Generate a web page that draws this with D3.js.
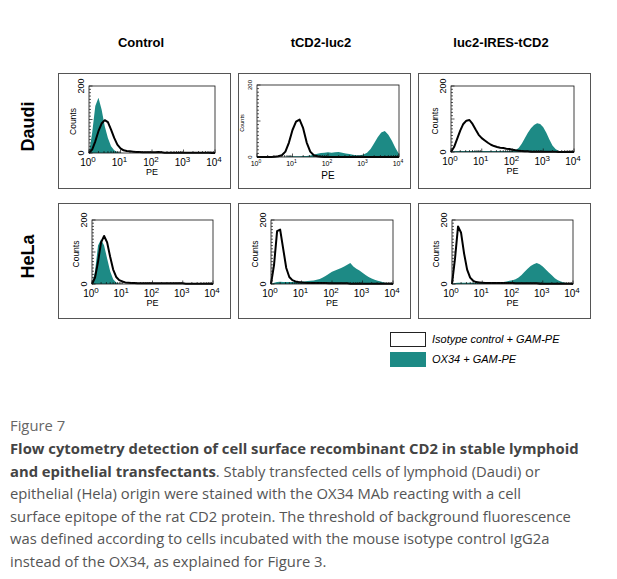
<!DOCTYPE html>
<html>
<head>
<meta charset="utf-8">
<script src="https://cdn.jsdelivr.net/npm/d3@7"></script>
<style>
  body { margin: 0; background: #fff; }
  svg { display: block; }
</style>
</head>
<body>
<div id="chart"></div>
<script>
// column / row names
const columns = ["Control", "tCD2-luc2", "luc2-IRES-tCD2"];
const rows = ["Daudi", "HeLa"];
const xTickExps = [0, 1, 2, 3, 4];
const yTicks = [0, 200];
const legendLabels = ["Isotype control + GAM-PE", "OX34 + GAM-PE"];

// counts per bin, bins at log10(PE) = 0.0, 0.1, ... 4.0
const daudiControlOX34 = [0,60,140,165,130,80,45,20,8,3,1,0,0,0,0,0,0,0,0,0,0,0,0,0,0,0,0,0,0,0,0,0,0,0,0,0,0,0,0,0,0];
const daudiControlIso  = [0,10,35,65,88,98,92,70,45,25,14,8,6,5,4,3,3,2,2,2,2,2,3,2,1,1,1,1,1,1,1,1,1,1,1,1,1,1,1,0,0];
const daudiTcdOX34     = [0,0,0,0,0,0,0,0,1,2,2,2,2,3,3,4,6,9,11,12,13,12,13,14,12,10,8,6,5,5,7,12,22,38,55,68,72,62,45,25,8];
const daudiTcdIso      = [0,0,0,0,0,1,2,5,15,40,75,98,104,80,40,15,5,2,1,0,0,0,0,0,0,0,0,0,0,0,0,0,0,0,0,0,0,0,0,0,0];
const daudiIresOX34    = [0,2,3,3,3,3,3,3,3,3,3,3,3,3,3,3,3,3,3,3,4,6,12,25,42,58,72,82,87,85,75,58,38,20,9,3,1,0,0,0,0];
const daudiIresIso     = [0,15,40,65,85,95,97,85,68,52,42,35,28,22,18,15,13,12,10,9,7,5,4,3,2,2,1,1,1,1,1,1,1,1,1,0,0,0,0,0,0];
const helaControlOX34  = [0,40,120,140,120,80,40,15,5,1,0,0,0,0,0,0,0,0,0,0,0,0,0,0,0,0,0,0,0,0,0,0,0,0,0,0,0,0,0,0,0];
const helaControlIso   = [0,20,70,130,150,130,85,45,22,12,8,5,4,3,3,2,2,2,2,2,2,2,2,2,2,2,2,2,2,2,2,1,1,1,1,1,1,1,1,1,0];
const helaTcdOX34      = [0,4,6,7,6,6,6,6,7,7,8,8,9,10,11,13,16,20,26,32,38,42,46,50,55,60,66,55,48,42,35,28,22,17,13,10,8,5,3,2,0];
const helaTcdIso       = [0,60,165,170,110,50,22,12,8,6,5,4,3,3,3,3,3,3,3,2,2,2,2,2,2,2,1,1,1,1,1,1,1,1,1,1,1,1,1,1,0];
const helaIresOX34     = [0,3,4,4,4,4,4,4,4,4,4,4,4,4,4,4,5,6,8,10,12,15,20,28,38,48,56,62,66,62,55,45,36,27,18,12,8,5,3,2,0];
const helaIresIso      = [0,80,180,160,95,45,20,10,6,5,4,3,3,3,3,3,3,3,3,3,3,2,2,2,2,2,2,2,2,1,1,1,1,1,1,1,1,1,1,1,0];

const ox34 = [[daudiControlOX34, daudiTcdOX34, daudiIresOX34], [helaControlOX34, helaTcdOX34, helaIresOX34]];
const iso  = [[daudiControlIso, daudiTcdIso, daudiIresIso], [helaControlIso, helaTcdIso, helaIresIso]];

const W = 617, H = 579;
const teal = "#1d8a85";

const svg = d3.select("#chart").append("svg")
    .attr("width", W).attr("height", H);

svg.append("rect").attr("width", W).attr("height", H).attr("fill", "#fff");

// panel layout: frame box and inner plot box (relative to frame)
const colX = [58, 238, 418], rowY = [73, 203];
const frameW = 172, frameH = 115;
const plotBox = [
    [{x: 31, y: 13, w: 126, h: 67, fs: 10}, {x: 19, y: 12, w: 142, h: 72, fs: 7}, {x: 33, y: 13, w: 123, h: 66, fs: 10}],
    [{x: 34, y: 17, w: 121, h: 64, fs: 10}, {x: 33, y: 17, w: 122, h: 64, fs: 10}, {x: 34, y: 17, w: 121, h: 64, fs: 10}]
];

// column headers
svg.selectAll(".col-head")
    .data(columns)
    .enter().append("text")
    .attr("class", "col-head")
    .attr("x", (d, i) => colX[i] + frameW / 2 - 3)
    .attr("y", 47)
    .attr("text-anchor", "middle")
    .style("font-family", "Liberation Sans, Arial, sans-serif")
    .style("font-weight", "bold")
    .style("font-size", "13px")
    .text(d => d);

// row labels
svg.selectAll(".row-head")
    .data(rows)
    .enter().append("text")
    .attr("class", "row-head")
    .attr("transform", (d, i) => `translate(34,${rowY[i] + frameH / 2 - 4}) rotate(-90)`)
    .attr("text-anchor", "middle")
    .style("font-family", "Liberation Sans, Arial, sans-serif")
    .style("font-weight", "bold")
    .style("font-size", "18px")
    .text(d => d);

const bins = d3.range(41).map(i => Math.pow(10, i / 10));

rows.forEach((r, ri) => {
    columns.forEach((c, ci) => {
        const fx = colX[ci], fy = rowY[ri];
        const pb = plotBox[ri][ci];
        const g = svg.append("g").attr("transform", `translate(${fx},${fy})`);

        g.append("rect")
            .attr("x", 0.5).attr("y", 0.5)
            .attr("width", frameW).attr("height", frameH)
            .attr("fill", "#fff")
            .attr("stroke", "#555");

        const x = d3.scaleLog().domain([1, 1e4]).range([pb.x, pb.x + pb.w]);
        const y = d3.scaleLinear().domain([0, 200]).range([pb.y + pb.h, pb.y]);

        const area = d3.area()
            .x((d, i) => x(bins[i]))
            .y0(y(0))
            .y1(d => y(d));
        const line = d3.line()
            .x((d, i) => x(bins[i]))
            .y(d => y(d));

        g.append("path")
            .attr("d", area(ox34[ri][ci]))
            .attr("fill", teal);

        g.append("path")
            .attr("d", line(iso[ri][ci]))
            .attr("fill", "none")
            .attr("stroke", "#000")
            .attr("stroke-width", 2)
            .attr("stroke-linejoin", "round");

        // plot box
        g.append("rect")
            .attr("x", pb.x).attr("y", pb.y)
            .attr("width", pb.w).attr("height", pb.h)
            .attr("fill", "none")
            .attr("stroke", "#111")
            .attr("stroke-width", 0.8);

        // x ticks (log, with minor ticks)
        const minor = [];
        for (let e = 0; e < 4; e++)
            for (let m = 1; m < 10; m++) minor.push(m * Math.pow(10, e));
        minor.push(1e4);
        g.selectAll(".xt").data(minor).enter().append("line")
            .attr("x1", d => x(d)).attr("x2", d => x(d))
            .attr("y1", y(0)).attr("y2", d => y(0) - (Math.log10(d) % 1 === 0 ? 3.5 : 2))
            .attr("stroke", "#111").attr("stroke-width", 0.7);

        // y ticks
        g.selectAll(".yt").data(d3.range(0, 201, 10)).enter().append("line")
            .attr("x1", pb.x).attr("x2", d => pb.x + (d % 100 === 0 ? 3.5 : 2))
            .attr("y1", d => y(d)).attr("y2", d => y(d))
            .attr("stroke", "#111").attr("stroke-width", 0.7);

        const small = pb.fs < 8;

        // x tick labels 10^n
        const xl = g.selectAll(".xl").data(xTickExps).enter().append("text")
            .attr("x", d => x(Math.pow(10, d)) - 1)
            .attr("y", y(0) + (small ? 9 : 13))
            .attr("text-anchor", "middle")
            .style("font-family", "Liberation Sans, Arial, sans-serif")
            .style("font-size", pb.fs + "px");
        xl.append("tspan").text("10");
        xl.append("tspan")
            .attr("dy", small ? -3 : -4)
            .style("font-size", (pb.fs - 2) + "px")
            .text(d => d);

        g.append("text")
            .attr("x", pb.x + pb.w / 2)
            .attr("y", small ? frameH - 9 : pb.y + pb.h + 22)
            .attr("text-anchor", "middle")
            .style("font-family", "Liberation Sans, Arial, sans-serif")
            .style("font-size", (small ? 10 : 9) + "px")
            .text("PE");

        // y tick labels & title, rotated
        g.selectAll(".yl").data(yTicks).enter().append("text")
            .attr("transform", d => `translate(${pb.x - 5},${y(d)}) rotate(-90)`)
            .attr("text-anchor", "middle")
            .style("font-family", "Liberation Sans, Arial, sans-serif")
            .style("font-size", (small ? 6 : 9) + "px")
            .text(d => d);

        g.append("text")
            .attr("transform", `translate(${pb.x - 13},${pb.y + pb.h / 2 + 2}) rotate(-90)`)
            .attr("text-anchor", "middle")
            .style("font-family", "Liberation Sans, Arial, sans-serif")
            .style("font-size", (small ? 5.5 : 8.5) + "px")
            .text("Counts");
    });
});

// legend
const legend = svg.append("g").attr("transform", "translate(390,332)");
legend.selectAll("rect").data(legendLabels).enter().append("rect")
    .attr("x", 0.5).attr("y", (d, i) => i * 20 + 0.5)
    .attr("width", 35).attr("height", 14)
    .attr("fill", (d, i) => i === 0 ? "#fff" : teal)
    .attr("stroke", (d, i) => i === 0 ? "#222" : teal);
legend.selectAll("text").data(legendLabels).enter().append("text")
    .attr("x", 42).attr("y", (d, i) => i * 20 + 11)
    .style("font-family", "Liberation Sans, Arial, sans-serif")
    .style("font-style", "italic")
    .style("font-size", "11px")
    .text(d => d);

// caption
const cap = svg.append("g")
    .style("font-family", "Open Sans, sans-serif")
    .style("font-size", "14.8px");
cap.append("text").attr("x", 10).attr("y", 431).attr("fill", "#666").text("Figure 7");
const capLines = [
    [["Flow cytometry detection of cell surface recombinant CD2 in stable lymphoid", true]],
    [["and epithelial transfectants", true], [". Stably transfected cells of lymphoid (Daudi) or", false]],
    [["epithelial (Hela) origin were stained with the OX34 MAb reacting with a cell", false]],
    [["surface epitope of the rat CD2 protein. The threshold of background fluorescence", false]],
    [["was defined according to cells incubated with the mouse isotype control IgG2a", false]],
    [["instead of the OX34, as explained for Figure 3.", false]]
];
capLines.forEach((ln, i) => {
    const t = cap.append("text").attr("x", 10).attr("y", 454 + i * 22.5).attr("fill", "#555");
    ln.forEach(([s, b]) => {
        t.append("tspan")
            .style("font-weight", b ? "bold" : "normal")
            .attr("fill", b ? "#444" : "#555")
            .text(s);
    });
});
</script>
</body>
</html>
